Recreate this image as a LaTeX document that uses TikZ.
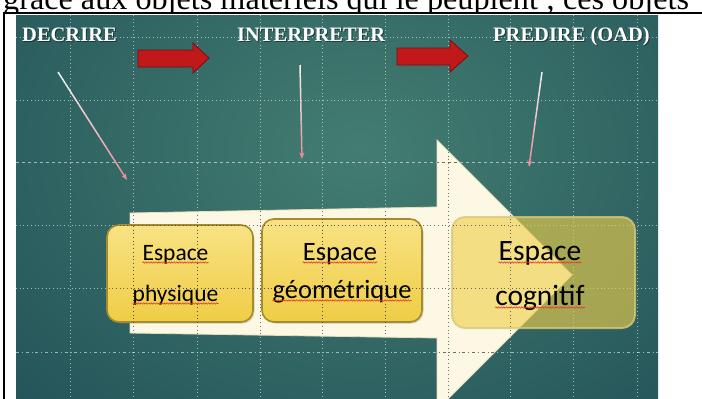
\documentclass[tikz,border=0pt]{standalone}
\usepackage{fontspec}
\setmainfont{Liberation Serif}
\newfontfamily\calib{Carlito}
\usetikzlibrary{calc,arrows.meta,decorations.pathmorphing,shadows}
\definecolor{tealdark}{HTML}{1A4752}
\definecolor{teallight}{HTML}{437D71}
\definecolor{cream}{HTML}{FDF8E4}
\definecolor{creamedge}{HTML}{E6DDBF}
\definecolor{ytop}{HTML}{F8E283}
\definecolor{ybot}{HTML}{EFCD45}
\definecolor{yedge}{HTML}{A58B2C}
\definecolor{ythree}{HTML}{EFCF4A}
\definecolor{ythreeedge}{HTML}{D8C878}
\definecolor{redarrow}{HTML}{C1191B}
\definecolor{rededge}{HTML}{7E0C0C}
\definecolor{pinkstart}{HTML}{F4F0F2}
\definecolor{pinkend}{HTML}{EA8F9A}
\definecolor{squigred}{HTML}{E0401E}
\tikzset{
  gridlight/.style={white, opacity=0.55, line width=0.7pt},
  griddark/.style={black!70, opacity=0.8, line width=0.7pt},
  gdot/.style={dash pattern=on 0.7pt off 3pt},
  gdash/.style={dash pattern=on 3pt off 3pt},
  gdashdot/.style={dash pattern=on 3pt off 3pt on 0.7pt off 3pt},
  ybox/.style={rounded corners=12pt, draw=yedge, line width=1.6pt,
    top color=ytop, bottom color=ybot,
    drop shadow={opacity=0.35, shadow xshift=1.5pt, shadow yshift=-1.5pt}},
  ybox3/.style={rounded corners=13pt, fill=ythree, fill opacity=0.62,
    draw=ythreeedge, draw opacity=0.8, line width=2pt},
  word/.style={anchor=base, inner sep=0pt, text=black},
  squig/.style={squigred, line width=0.6pt,
    decorate, decoration={snake, amplitude=0.7pt, segment length=2.6pt}},
  hdr/.style={anchor=base west, inner sep=0pt, text=white,
    font=\fontsize{20.5}{24}\selectfont\bfseries},
  hdrshadow/.style={anchor=base west, inner sep=0pt, text=black, text opacity=0.45,
    font=\fontsize{20.5}{24}\selectfont\bfseries},
  redblock/.style={fill=redarrow, draw=rededge, line width=0.8pt, line join=miter},
  pinktip/.style={-{Stealth[length=6.5pt,width=5pt]}, pinkend, line width=1.5pt}
}
\newcommand\mygrid[1]{%
  \foreach \gx in {70,133,197,260,322,385,448,510,573,637}
    \draw[#1, gdot] (\gx,15) -- (\gx,399);
  \foreach \gy in {37,100,225,288}
    \draw[#1, gdot] (16,\gy) -- (658,\gy);
  \draw[#1, gdash] (16,162) -- (658,162);
  \draw[#1, gdashdot] (16,352) -- (658,352);
}
\begin{document}
\begin{tikzpicture}[x=1pt,y=-1pt]
\useasboundingbox (0,0) rectangle (702,399);
\fill[white] (0,0) rectangle (702,399);
% text line of the page above the picture
\begin{scope}
  \clip (0,-30) rectangle (702,12);
  \node[anchor=base west, inner sep=0pt, font=\fontsize{32.2}{36}\selectfont] (intro) at (3,9)
    {grâce aux objets matériels qui le peuplent ; ces objets};
\end{scope}
% frame
\draw[line width=2pt] (3,13) -- (702,13);
\draw[line width=2pt] (4,12) -- (4,399);
% background
\fill[tealdark] (16,15) rectangle (658,399);
\begin{scope}
  \clip (16,15) rectangle (658,399);
  \shade[inner color=teallight, outer color=tealdark] (360,150) ellipse [x radius=640, y radius=480];
  \mygrid{gridlight}
\end{scope}
% big arrow
\fill[cream] (130,213) -- (437,207) -- (437,140) -- (572,275) -- (437,410) -- (437,338) -- (130,333) -- cycle;
\draw[creamedge, line width=0.8pt] (130,213) -- (437,207) -- (437,140) -- (572,275) -- (437,410) -- (437,338) -- (130,333) -- cycle;
% boxes
\node[ybox, minimum width=146pt, minimum height=97pt] (b1) at (180,273.5) {};
\node[ybox, minimum width=160pt, minimum height=103pt] (b2) at (342,270.5) {};
\node[ybox3, minimum width=183pt, minimum height=111pt] (b3) at (543.5,272.5) {};
% grid seen on light shapes
\begin{scope}
  \clip (130,213) -- (437,207) -- (437,140) -- (572,275) -- (437,410) -- (437,338) -- (130,333) -- cycle;
  \mygrid{griddark}
\end{scope}
\begin{scope}
  \clip[rounded corners=12pt] (107,225) rectangle (253,322);
  \mygrid{griddark}
\end{scope}
\begin{scope}
  \clip[rounded corners=12pt] (262,219) rectangle (422,322);
  \mygrid{griddark}
\end{scope}
% texts
\node[word, font=\calib\fontsize{23.5}{26}\selectfont] (t1a) at (175.5,260) {Espace};
\node[word, font=\calib\fontsize{23.5}{26}\selectfont] (t1b) at (175.5,301) {physique};
\node[word, font=\calib\fontsize{26.5}{30}\selectfont] (t2a) at (340,260) {Espace};
\node[word, font=\calib\fontsize{26.5}{30}\selectfont] (t2b) at (342,298) {géométrique};
\node[word, font=\calib\fontsize{29.5}{34}\selectfont] (t3a) at (540,260) {Espace};
\node[word, font=\calib\fontsize{29.5}{34}\selectfont] (t3b) at (540,305) {cognitif};
\foreach \t in {t1a,t1b,t2a,t2b,t3a,t3b}
  \draw[squig] ($(\t.base west)+(0,2.5)$) -- ($(\t.base east)+(0,2.5)$);
% red block arrows
\draw[redblock] (138,50) -- (193,50) -- (193,43) -- (209,58) -- (193,73) -- (193,67) -- (138,67) -- cycle;
\draw[redblock] (397,48) -- (450,48) -- (450,40) -- (468,56) -- (450,72) -- (450,65) -- (397,65) -- cycle;
% pointing arrows
\coordinate (p1s) at (58,72);   \coordinate (p1e) at (127,180);
\coordinate (p2s) at (300,65);  \coordinate (p2e) at (302,159);
\coordinate (p3s) at (542,72);  \coordinate (p3e) at (529,167);
\foreach \s/\e in {p1s/p1e, p2s/p2e, p3s/p3e} {
  \foreach \i in {0,...,8} {
    \pgfmathtruncatemacro\pc{\i*11}
    \draw[line width=1.5pt, color=pinkend!\pc!pinkstart]
      ($(\s)!{\i/10}!(\e)$) -- ($(\s)!{(\i+1)/10}!(\e)$);
  }
  \draw[pinktip] ($(\s)!0.9!(\e)$) -- (\e);
}
% headers
\node[hdrshadow] (h1s) at (23,42) {DECRIRE};
\node[hdrshadow] (h2s) at (238,42) {INTERPRETER};
\node[hdrshadow] (h3s) at (494,42) {PREDIRE (OAD)};
\node[hdr] (h1) at (22,41) {DECRIRE};
\node[hdr] (h2) at (237,41) {INTERPRETER};
\node[hdr] (h3) at (493,41) {PREDIRE (OAD)};
\end{tikzpicture}
\end{document}
